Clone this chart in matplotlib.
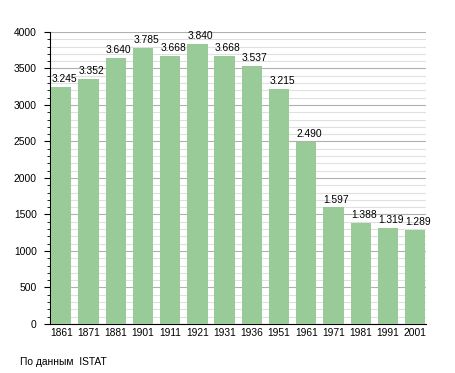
import numpy as np
import matplotlib.pyplot as plt
from matplotlib.ticker import MultipleLocator

plt.rcParams['font.family'] = ['Liberation Sans', 'DejaVu Sans']

years = ['1861', '1871', '1881', '1901', '1911', '1921', '1931',
         '1936', '1951', '1961', '1971', '1981', '1991', '2001']
population = [3245, 3352, 3640, 3785, 3668, 3840, 3668,
              3537, 3215, 2490, 1597, 1388, 1319, 1289]

def fmt(v):
    return '{:,}'.format(v).replace(',', '.')

fig = plt.figure(figsize=(4.55, 3.73), dpi=100)
ax = fig.add_axes([0.110, 0.1314, 0.826, 0.783])
x = np.arange(len(years))
ax.bar(x, population, width=0.745, color='#98cb98', zorder=3)
# labels start at the left edge of each bar
for xi, v in zip(x, population):
    ax.text(xi - 0.36, v + 65, fmt(v), ha='left', va='baseline',
            fontsize=7.4, zorder=4)

ax.set_xlim(-0.41, len(years) - 0.61)
ax.set_ylim(0, 4000)
ax.set_xticks(x)
ax.set_xticklabels(years, fontsize=7.4)
ax.yaxis.set_major_locator(MultipleLocator(500))
ax.yaxis.set_minor_locator(MultipleLocator(100))
ax.tick_params(axis='y', which='major', length=4.5, pad=5, labelsize=7.4)
ax.tick_params(axis='y', which='minor', length=2.2)
ax.tick_params(axis='x', length=0, pad=3)
ax.grid(axis='y', which='major', color='#b0b0b0', lw=0.8, zorder=0)
ax.grid(axis='y', which='minor', color='#e0e0e0', lw=0.8, zorder=0)
for s in ['top', 'right']:
    ax.spines[s].set_visible(False)

fig.text(20 / 455, 1 - 362 / 373, 'По данным  ISTAT', fontsize=7.4, va='center')
fig.savefig('out.png')
